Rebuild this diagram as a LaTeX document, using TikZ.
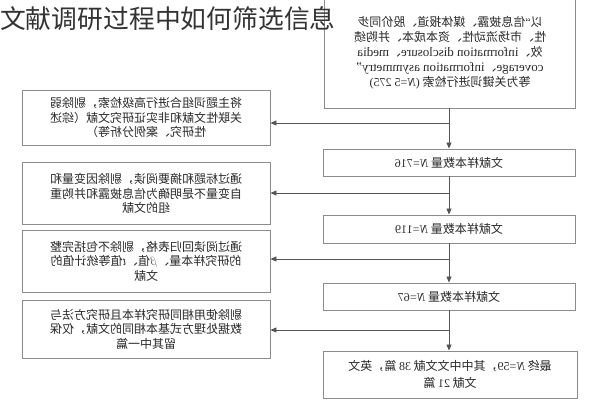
\documentclass[tikz,border=0pt]{standalone}
\usepackage{fontspec}
\setmainfont{Noto Sans CJK SC}
\newfontfamily\latf{Liberation Serif}
\newcommand{\lat}[1]{{\latf #1}}
\usetikzlibrary{arrows.meta}
\definecolor{boxgray}{HTML}{8C8C8C}
\definecolor{linegray}{HTML}{555555}
\definecolor{txtgray}{HTML}{2A2A2A}
\definecolor{titlecol}{HTML}{333333}
\begin{document}
\begin{tikzpicture}[x=1pt,y=-1pt,
  box/.style={draw=boxgray, line width=0.9pt, inner sep=0pt},
  txt/.style={xscale=-1, transform shape, align=center, text=txtgray, inner sep=0pt,
    font=\fontsize{12}{14.5}\selectfont},
  conn/.style={draw=linegray, line width=0.8pt},
  arr/.style={conn, -{Triangle[length=6pt,width=5pt]}}]
\useasboundingbox (0,0) rectangle (596,400);
\fill[white] (0,0) rectangle (596,400);
% right column boxes
\node[box, minimum width=251pt, minimum height=114pt] (top) at (449.5,51) {};
\node[box, minimum width=252pt, minimum height=27pt] (b716) at (449,162.5) {};
\node[box, minimum width=252pt, minimum height=28pt] (b119) at (449,229) {};
\node[box, minimum width=252pt, minimum height=27pt] (b67) at (449,296.5) {};
\node[box, minimum width=254pt, minimum height=47pt] (bfin) at (450,374.5) {};
% left column boxes
\node[box, minimum width=248pt, minimum height=55pt] (lb1) at (146,117.5) {};
\node[box, minimum width=248pt, minimum height=62pt] (lb2) at (146,193.5) {};
\node[box, minimum width=248pt, minimum height=62pt] (lb3) at (146,261) {};
\node[box, minimum width=248pt, minimum height=58pt] (lb4) at (146,329) {};
% texts (mirrored as in the reference)
\node[txt, font=\fontsize{12}{15}\selectfont] (ttop) at (450,53) {以\lat{“}信息披露、媒体报道、股价同步\\性、市场流动性、资本成本、并购绩\\效、\lat{\fontsize{13}{15}\selectfont information disclosure}、\lat{\fontsize{13}{15}\selectfont media}\\\lat{\fontsize{13}{15}\selectfont coverage}、\lat{\fontsize{13}{15}\selectfont information asymmetry”}\\等为关键词进行检索 \lat{(\textit{N}=5 275)}};
\node[txt] (t716) at (b716.center) {文献样本数量 \lat{\textit{N}=716}};
\node[txt] (t119) at (b119.center) {文献样本数量 \lat{\textit{N}=119}};
\node[txt] (t67) at (b67.center) {文献样本数量 \lat{\textit{N}=67}};
\node[txt, font=\fontsize{12}{17}\selectfont] (tfin) at (bfin.center) {最终 \lat{\textit{N}=59}，其中中文文献 \lat{38} 篇，英文\\文献 \lat{21} 篇};
\node[txt] (tl1) at (lb1.center) {将主题词组合进行高级检索，剔除弱\\关联性文献和非实证研究文献（综述\\性研究、案例分析等）};
\node[txt] (tl2) at (lb2.center) {通过标题和摘要阅读，剔除因变量和\\自变量不是明确为信息披露和并购重\\组的文献};
\node[txt] (tl3) at (lb3.center) {通过阅读回归表格，剔除不包括完整\\的研究样本量、$\beta$值、\lat{\textit{t}}值等统计值的\\文献};
\node[txt] (tl4) at (lb4.center) {剔除使用相同研究样本且研究方法与\\数据处理方式基本相同的文献，仅保\\留其中一篇};
% junctions
\coordinate (j1) at (449,123);
\coordinate (j2) at (449,193);
\coordinate (j3) at (449,259);
\coordinate (j4) at (449,330);
% connectors
\draw[arr] (top.south -| j1) -- (b716.north -| j1);
\draw[arr] (b716.south -| j2) -- (b119.north -| j2);
\draw[arr] (b119.south -| j3) -- (b67.north -| j3);
\draw[arr] (b67.south -| j4) -- (bfin.north -| j4);
\draw[arr] (j1) -- (j1 -| lb1.east);
\draw[arr] (j2) -- (j2 -| lb2.east);
\draw[arr] (j3) -- (j3 -| lb3.east);
\draw[arr] (j4) -- (j4 -| lb4.east);
% title overlay
\node[anchor=west, inner sep=0pt, text=titlecol, font=\fontsize{25.8}{26}\selectfont] (title) at (0,19) {文献调研过程中如何筛选信息};
\end{tikzpicture}
\end{document}
